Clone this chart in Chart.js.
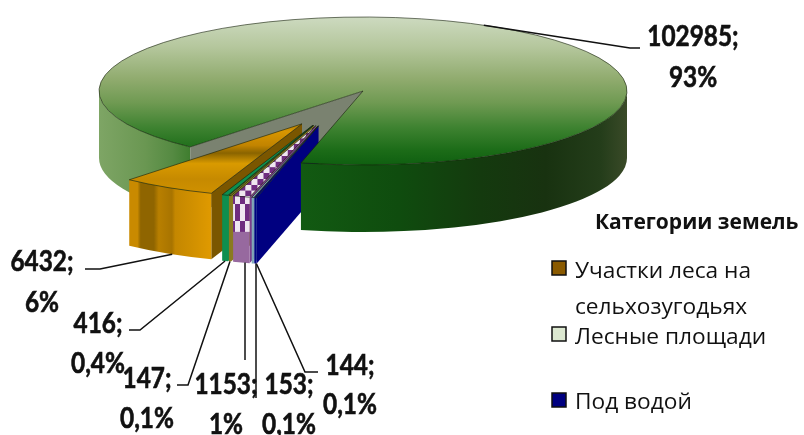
<!DOCTYPE html>
<html lang="ru"><head><meta charset="utf-8">
<style>html,body{margin:0;padding:0;background:#fff}canvas{display:block;filter:blur(.45px)}</style>
<script src="https://cdn.jsdelivr.net/npm/chart.js@4"></script></head>
<body><canvas id="c" width="804" height="435"></canvas>
<script>
const categories=["Участки леса на сельхозугодьях","Лесные площади","Под водой","","","",""];
const areaValues=[6432,102985,144,153,1153,147,416];
const percentLabels=["6%","93%","0,1%","0,1%","1%","0,1%","0,4%"];
const sliceColors=["#c98a00","#8aa866","#000080","#7fa8b8","#97699f","#8a7a20","#0d8f4f"];
const legendColors=["#8a5a00","#dce8d0","#000080"];
const legendLines=[["Участки леса на","сельхозугодьях"],["Лесные площади"],["Под водой"]];

const PCX=363,PCY=91,RX=264,RY=74,DEPTH=67,SLICE_DEPTH=66,EXPLODE=.5;
// where each data label sits and how its leader bends
const labelPos=[[42,262,303],[693,37,78],[350,366,405],[289,385,425],[226,385,425],[147,379,419],[98,324,364]];
const leaderEnd=[[[100,269],[85,269]],[[630,48],[640,48]],[[305,372],[318,372]],[[256,398]],[[245,360]],[[188,385],[177,385]],[[140,330],[129,330]]];
const leaderFrom=[[.45,1],[.5,0],[0,1],[.5,1],[.5,1],[.5,1],[.5,1]];

function geom(chart){const a=chart.chartArea;const R=(a.bottom-a.top)/2;return{R,cx:(a.left+a.right)/2,cy:(a.top+a.bottom)/2};}
function toLocalY(chart,sy){const g=geom(chart);return g.cy+(sy-PCY)*g.R/RY;}
function grad(chart,y0,y1,stops){const g=chart.ctx.createLinearGradient(0,toLocalY(chart,y0),0,toLocalY(chart,y1));stops.forEach(s=>g.addColorStop(s[0],s[1]));return g;}
function checks(chart){const p=document.createElement('canvas');p.width=10;p.height=34;const c=p.getContext('2d');
 c.fillStyle='#6f2c80';c.fillRect(0,0,10,34);c.fillStyle='#efe6f0';c.fillRect(0,0,5,17);c.fillRect(5,17,5,17);return chart.ctx.createPattern(p,'repeat');}
function sideGrad(ctx,x0,x1,stops){const g=ctx.createLinearGradient(x0,0,x1,0);stops.forEach(s=>g.addColorStop(s[0],s[1]));return g;}
function fillFor(c){const chart=c.chart,i=c.dataIndex;
 if(!chart.chartArea)return sliceColors[i];
 if(i===1)return grad(chart,17,165,[[0,'#cddac0'],[.2,'#b5c79d'],[.42,'#90ab6e'],[.58,'#6f9a52'],[.75,'#3d8230'],[.9,'#1c6c18'],[1,'#0f5f10']]);
 if(i===0)return grad(chart,123,193,[[0,'#a87800'],[.12,'#d99600'],[.32,'#c28400'],[.43,'#8a6400'],[.58,'#d99a00'],[.8,'#c68a00'],[1,'#cf9000']]);
 if(i===4)return checks(chart);
 return sliceColors[i];}

function screenOf(chart,el){const g=geom(chart);return{x:PCX+(el.x-g.cx)*RX/g.R,y:PCY+(el.y-g.cy)*RY/g.R};}
function wallArc(ctx,o,a0,a1,d){ // visible rim wall between two angles
 ctx.beginPath();ctx.ellipse(o.x,o.y,RX,RY,0,a0,a1);ctx.ellipse(o.x,o.y+d,RX,RY,0,a1,a0,true);ctx.closePath();ctx.fill();}
function wallRadial(ctx,o,a,d){const x=o.x+RX*Math.cos(a),y=o.y+RY*Math.sin(a);
 ctx.beginPath();ctx.moveTo(o.x,o.y);ctx.lineTo(x,y);ctx.lineTo(x,y+d);ctx.lineTo(o.x,o.y+d);ctx.closePath();ctx.fill();}
function squeezed(ctx,text,x,y){ctx.save();ctx.translate(x,y);ctx.scale(.87,1);ctx.fillText(text,0,0);ctx.strokeText(text,0,0);ctx.restore();}

const pie3d={id:'pie3d',
 afterDatasetUpdate(chart){const meta=chart.getDatasetMeta(0),g=geom(chart);
  const orangeMid=(meta.data[0].startAngle+meta.data[0].endAngle)/2;
  meta.data.forEach((el,i)=>{if(i===1)return;
   let mid=(el.startAngle+el.endAngle)/2;
   while(mid-orangeMid>Math.PI)mid-=2*Math.PI;
   const dir=orangeMid-.052+(mid-orangeMid)*.47;
   el.x=g.cx+EXPLODE*g.R*Math.cos(dir);el.y=g.cy+EXPLODE*g.R*Math.sin(dir);});},
 beforeDatasetsDraw(chart){const ctx=chart.ctx,meta=chart.getDatasetMeta(0),g=geom(chart);
  const main=meta.data[1],c={x:PCX,y:PCY};
  ctx.save();
  ctx.fillStyle=sideGrad(ctx,PCX-RX,PCX-RX+92,[[0,'#7ea565'],[.5,'#6a9752'],[.8,'#558a42'],[1,'#3e7d2e']]);
  wallArc(ctx,c,main.startAngle,Math.PI,DEPTH);
  ctx.fillStyle='#7a8270';wallRadial(ctx,c,main.startAngle,DEPTH);
  // exploded slices, left to right
  [0,6,5,4,3,2].forEach(i=>{const el=meta.data[i],o=screenOf(chart,el);
   ctx.fillStyle=i===0?'#7a5600':i===4?'#7b3f8c':sliceColors[i];
   wallRadial(ctx,o,el.startAngle,SLICE_DEPTH);
   if(i===0){ctx.fillStyle=sideGrad(ctx,o.x+RX*Math.cos(el.endAngle),o.x+RX*Math.cos(el.startAngle),[[0,'#c98a00'],[.1,'#c98a00'],[.14,'#8f6500'],[.3,'#8f6500'],[.36,'#b87f00'],[.52,'#a87400'],[.56,'#c48700'],[.75,'#cf8f00'],[1,'#e09a00']]);}
   else ctx.fillStyle=sliceColors[i];
   wallArc(ctx,o,el.startAngle,el.endAngle,SLICE_DEPTH);
   if(i===4){const x0=o.x+RX*Math.cos(el.endAngle),x1=o.x+RX*Math.cos(el.startAngle),y0=o.y+RY*Math.sin(el.endAngle);
     ctx.save();ctx.fillStyle=checks(chart);ctx.fillRect(x0,y0,x1-x0,36);ctx.restore();}
  });
  // right part of the main slice rim sits in front of the exploded walls
  ctx.fillStyle=sideGrad(ctx,301,PCX+RX,[[0,'#125a12'],[.3,'#0f4c0e'],[.55,'#143a0e'],[.75,'#183210'],[.92,'#243d1a'],[1,'#3a4a28']]);
  wallArc(ctx,c,Math.PI*2,main.endAngle,DEPTH);
  ctx.restore();
  // flatten every arc the library draws into the tilted disc
  ctx.save();ctx.translate(PCX,PCY);ctx.scale(RX/g.R,RY/g.R);ctx.translate(-g.cx,-g.cy);
 },
 afterDatasetsDraw(chart){const ctx=chart.ctx,meta=chart.getDatasetMeta(0);
  ctx.restore();
  ctx.save();ctx.strokeStyle='rgba(20,30,10,.75)';ctx.lineWidth=.8;
  meta.data.forEach((el,i)=>{const o=i===1?{x:PCX,y:PCY}:screenOf(chart,el);
   ctx.beginPath();ctx.moveTo(o.x,o.y);ctx.ellipse(o.x,o.y,RX,RY,0,el.startAngle,el.endAngle);ctx.closePath();ctx.stroke();});
  // leaders and data labels
  ctx.strokeStyle='#111';ctx.fillStyle='#111';ctx.textAlign='center';ctx.textBaseline='middle';
  ctx.font='bold 28px Lato, "Open Sans"';
  areaValues.forEach((v,i)=>{const el=meta.data[i],o=i===1?{x:PCX,y:PCY}:screenOf(chart,el);
   const f=leaderFrom[i],a=el.startAngle+(el.endAngle-el.startAngle)*f[0],ends=leaderEnd[i];
   const sx=ends.length===1?ends[0][0]:o.x+RX*Math.cos(a);
   ctx.lineWidth=1.5;ctx.beginPath();ctx.moveTo(sx,o.y+RY*Math.sin(a)+(f[1]?SLICE_DEPTH:0));
   ends.forEach(p=>ctx.lineTo(p[0],p[1]));ctx.stroke();
   ctx.lineWidth=.6;
   const p=labelPos[i];squeezed(ctx,v+';',p[0],p[1]);squeezed(ctx,percentLabels[i],p[0],p[2]);});
  // legend
  ctx.textAlign='left';ctx.font='bold 21px "Open Sans"';ctx.fillText('Категории земель',595,223);
  ctx.font='22.7px "Open Sans"';
  const rows=[[261,[272,308]],[327,[338]],[393,[403]]];
  legendLines.forEach((ls,i)=>{ctx.fillStyle=legendColors[i];ctx.fillRect(552,rows[i][0],14,14);
   ctx.strokeStyle='#111';ctx.lineWidth=1.5;ctx.strokeRect(552,rows[i][0],14,14);
   ctx.fillStyle='#111';ls.forEach((t,j)=>ctx.fillText(t,575,rows[i][1][j]));});
  ctx.restore();
 }};

new Chart(document.getElementById('c'),{type:'pie',plugins:[pie3d],
 data:{labels:categories,datasets:[{data:areaValues,backgroundColor:fillFor,borderWidth:0,clip:false}]},
 options:{responsive:false,animation:false,rotation:200.1,events:[],layout:{padding:0},
  plugins:{legend:{display:false},tooltip:{enabled:false}}}});
</script></body></html>
